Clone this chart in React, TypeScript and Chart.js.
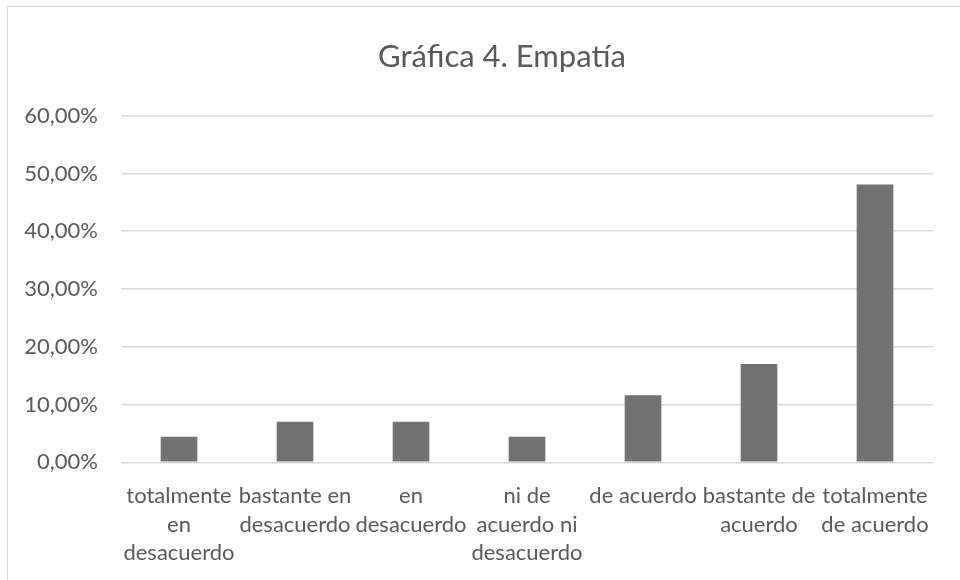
import React, { useEffect, useRef } from "react";
import { Chart, registerables } from "chart.js";

Chart.register(...registerables);

// Response categories, each split into the lines shown under the axis
const categories: string[][] = [
  ["totalmente", "en", "desacuerdo"],
  ["bastante en", "desacuerdo"],
  ["en", "desacuerdo"],
  ["ni de", "acuerdo ni", "desacuerdo"],
  ["de acuerdo"],
  ["bastante de", "acuerdo"],
  ["totalmente", "de acuerdo"],
];

// Share of answers per category, in percent
const empatia: number[] = [4.44, 7.03, 7.03, 4.44, 11.6, 17.0, 48.1];

const chartTitle = "Gráfica 4. Empatía";
const yMin = 0;
const yMax = 60;
const yStep = 10;

const textColor = "#595959";
const gridColor = "#d9d9d9";
const barColor = "#727272";
const fontFamily = "Lato, 'Open Sans', sans-serif";

const formatPercent = (v: number) => v.toFixed(2).replace(".", ",") + "%";

// The title is centred on the whole chart frame, which runs past the canvas edge
const frameTitle = {
  id: "frameTitle",
  afterDraw(chart: any) {
    const ctx = chart.ctx;
    ctx.save();
    ctx.fillStyle = textColor;
    ctx.font = `normal 31px ${fontFamily}`;
    ctx.textAlign = "center";
    ctx.textBaseline = "middle";
    ctx.fillText(chartTitle, 502, 57);
    ctx.restore();
  },
};

export default function App() {
  const canvasRef = useRef<HTMLCanvasElement | null>(null);

  useEffect(() => {
    if (!canvasRef.current) return;
    const chart = new Chart(canvasRef.current, {
      type: "bar",
      data: {
        labels: categories,
        datasets: [
          {
            label: "Empatía",
            data: empatia,
            backgroundColor: barColor,
            borderWidth: 0,
            categoryPercentage: 1,
            barPercentage: 0.316,
          },
        ],
      },
      options: {
        animation: false,
        responsive: false,
        maintainAspectRatio: false,
        layout: { padding: { left: 0, right: 27, top: 115.7, bottom: 0 } },
        plugins: {
          legend: { display: false },
          tooltip: { enabled: false },
          title: { display: false },
        },
        scales: {
          x: {
            grid: { display: false, drawTicks: false },
            border: { display: false },
            ticks: {
              color: textColor,
              font: { family: fontFamily, size: 22, lineHeight: 1.28 },
              maxRotation: 0,
              minRotation: 0,
              autoSkip: false,
              padding: 20,
            },
            afterFit: (scale: any) => {
              scale.height = 117.7;
            },
          },
          y: {
            min: yMin,
            max: yMax,
            grid: { color: gridColor, lineWidth: 1.5, drawTicks: false },
            border: { display: false },
            ticks: {
              stepSize: yStep,
              color: textColor,
              font: { family: fontFamily, size: 22 },
              padding: 23,
              callback: (v: any) => formatPercent(Number(v)),
            },
            afterFit: (scale: any) => {
              scale.width = 121;
            },
          },
        },
      },
      plugins: [frameTitle],
    });
    return () => chart.destroy();
  }, []);

  return (
    <div
      style={{
        position: "fixed",
        left: 0,
        top: 0,
        width: 960,
        height: 580,
        background: "#ffffff",
        overflow: "hidden",
      }}
    >
      <div
        style={{
          position: "absolute",
          left: 7,
          top: 6,
          width: 1000,
          height: 620,
          border: `1.5px solid ${gridColor}`,
          boxSizing: "border-box",
        }}
      />
      <canvas
        ref={canvasRef}
        width={960}
        height={580}
        style={{ position: "absolute", left: 0, top: 0 }}
      />
    </div>
  );
}
